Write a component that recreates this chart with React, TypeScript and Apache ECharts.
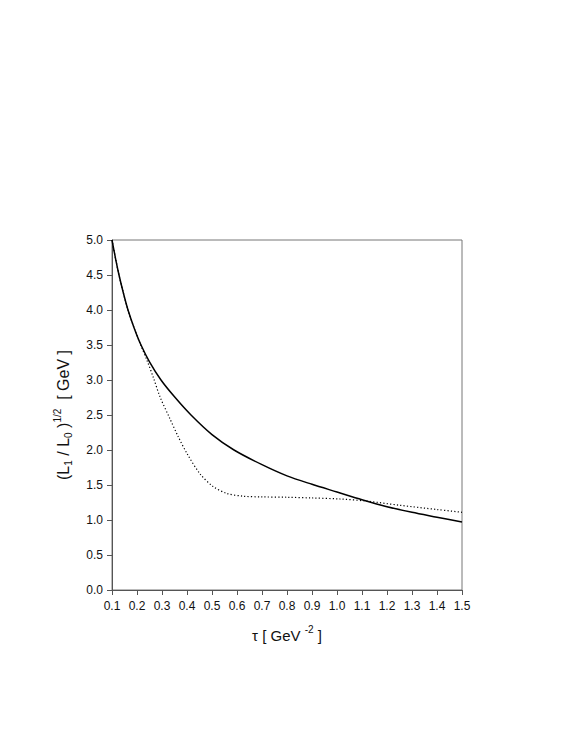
import React, { useEffect, useRef } from "react";
import * as echarts from "echarts";

const solidTau = [0.1, 0.115, 0.128, 0.145, 0.164, 0.19, 0.216, 0.25, 0.296, 0.35, 0.416, 0.5, 0.588, 0.7, 0.8, 0.9, 1.0, 1.1, 1.2, 1.3, 1.4, 1.5];
const solidVals = [5.0, 4.72, 4.5, 4.25, 4.0, 3.73, 3.5, 3.26, 3.0, 2.76, 2.5, 2.22, 2.0, 1.79, 1.63, 1.51, 1.4, 1.29, 1.19, 1.11, 1.04, 0.97];

const dottedTau = [0.1, 0.115, 0.128, 0.145, 0.164, 0.19, 0.216, 0.24, 0.265, 0.292, 0.33, 0.365, 0.4, 0.452, 0.504, 0.559, 0.625, 0.7, 0.8, 0.9, 1.012, 1.119, 1.252, 1.4, 1.5];
const dottedVals = [5.0, 4.72, 4.5, 4.25, 4.0, 3.73, 3.49, 3.28, 3.04, 2.76, 2.46, 2.19, 1.95, 1.66, 1.48, 1.38, 1.34, 1.33, 1.325, 1.315, 1.3, 1.27, 1.21, 1.15, 1.11];

const FONT = "'Liberation Sans', Arial, sans-serif";

type Piece = { t: string; size: number; dy: number };

const yTitle: Piece[] = [
  { t: "(L", size: 16, dy: 0 },
  { t: "1", size: 10, dy: 5 },
  { t: " / L", size: 16, dy: 0 },
  { t: "0", size: 10, dy: 5 },
  { t: " )", size: 16, dy: 0 },
  { t: "1/2", size: 10, dy: -6 },
  { t: "  [ GeV ]", size: 16, dy: 0 },
];
const xTitle: Piece[] = [
  { t: "τ [ GeV ", size: 15, dy: 0 },
  { t: "-2", size: 10, dy: -6 },
  { t: " ]", size: 15, dy: 0 },
];

function measure(t: string, size: number): number {
  const c = document.createElement("canvas").getContext("2d");
  if (!c) return t.length * size * 0.55;
  c.font = `${size}px ${FONT}`;
  return c.measureText(t).width;
}

function buildPieces(pieces: Piece[]) {
  const widths = pieces.map((p) => measure(p.t, p.size));
  const total = widths.reduce((a, b) => a + b, 0);
  let x = -total / 2;
  return pieces.map((p, i) => {
    const el = {
      type: "text",
      x,
      y: p.dy,
      style: {
        text: p.t,
        fontSize: p.size,
        fontFamily: FONT,
        fill: "#111",
        verticalAlign: "middle",
        align: "left",
      },
    };
    x += widths[i];
    return el;
  });
}

export default function App() {
  const ref = useRef<HTMLDivElement>(null);
  useEffect(() => {
    if (!ref.current) return;
    const chart = echarts.init(ref.current, null, { renderer: "svg" });
    const axisLine = { show: true, lineStyle: { color: "#555", width: 1 } };
    chart.setOption({
      animation: false,
      backgroundColor: "#fff",
      grid: {
        left: 112,
        top: 240,
        width: 350,
        height: 350,
        show: true,
        borderColor: "#777",
        borderWidth: 1,
      },
      xAxis: {
        type: "value",
        min: 0.1,
        max: 1.5,
        interval: 0.1,
        axisLine: { ...axisLine, onZero: false },
        axisTick: { show: true, inside: false, length: 5, lineStyle: { color: "#555" } },
        splitLine: { show: false },
        axisLabel: {
          color: "#111",
          fontSize: 12,
          fontFamily: FONT,
          margin: 10,
          formatter: (v: number) => v.toFixed(1),
        },
      },
      yAxis: {
        type: "value",
        min: 0,
        max: 5,
        interval: 0.5,
        axisLine: { ...axisLine, onZero: false },
        axisTick: { show: true, inside: false, length: 5, lineStyle: { color: "#555" } },
        splitLine: { show: false },
        axisLabel: {
          color: "#111",
          fontSize: 12,
          fontFamily: FONT,
          margin: 9,
          formatter: (v: number) => v.toFixed(1),
        },
      },
      series: [
        {
          type: "line",
          data: solidTau.map((t, i) => [t, solidVals[i]]),
          smooth: 0.3,
          showSymbol: false,
          lineStyle: { color: "#000", width: 1.5 },
          clip: true,
        },
        {
          type: "line",
          data: dottedTau.map((t, i) => [t, dottedVals[i]]),
          smooth: 0.3,
          showSymbol: false,
          lineStyle: { color: "#000", width: 1.2, type: [1.2, 2.2] },
          clip: true,
        },
      ],
      graphic: [
        {
          type: "group",
          x: 63,
          y: 415,
          rotation: Math.PI / 2,
          children: buildPieces(yTitle),
        },
        {
          type: "group",
          x: 287,
          y: 635,
          children: buildPieces(xTitle),
        },
      ],
    });
    return () => chart.dispose();
  }, []);
  return (
    <div
      ref={ref}
      style={{ position: "fixed", left: 0, top: 0, width: 575, height: 747 }}
    />
  );
}
